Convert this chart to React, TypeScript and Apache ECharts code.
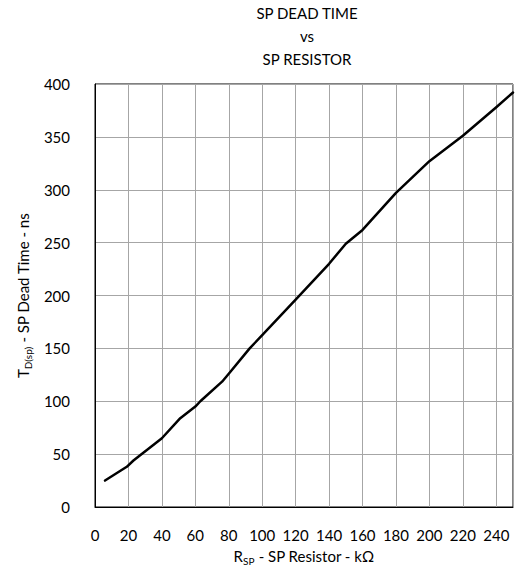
import React, { useEffect, useRef } from "react";
import * as echarts from "echarts";

const resistorK = [6, 19, 23, 27, 36, 40, 51, 60, 63, 76, 80, 92.5, 100, 120, 140, 150, 160, 180, 200, 220, 240, 250];
const deadTimeNs = [25, 38, 44, 49, 60, 65, 84, 95, 100, 118.5, 126, 150, 162.5, 196, 230, 249, 262, 297, 327, 351, 378, 392];
const titleLines = ["SP DEAD TIME", "vs", "SP RESISTOR"];

const FONT = "Lato, 'Open Sans', sans-serif";

const nameRich = {
  a: { fontSize: 15, fontFamily: FONT, color: "#000", lineHeight: 20, verticalAlign: "middle" },
  b: { fontSize: 10, fontFamily: FONT, color: "#000", lineHeight: 20, verticalAlign: "bottom", padding: [0, 0, 0, 0] },
};

export default function App() {
  const ref = useRef<HTMLDivElement>(null);
  useEffect(() => {
    if (!ref.current) return;
    const chart = echarts.init(ref.current, null, { renderer: "svg" });
    const data = resistorK.map((x, i) => [x, deadTimeNs[i]]);
    chart.setOption({
      animation: false,
      textStyle: { fontFamily: FONT },
      graphic: titleLines.map((t, i) => ({
        type: "text",
        x: 307,
        y: 13 + i * 23,
        style: {
          text: t,
          fill: "#000",
          font: `15px ${FONT}`,
          textAlign: "center",
          textVerticalAlign: "middle",
        },
      })),
      grid: {
        left: 95,
        top: 84,
        right: -3,
        bottom: 68,
        show: true,
        borderColor: "#000",
        borderWidth: 1,
        backgroundColor: "transparent",
      },
      xAxis: {
        type: "value",
        min: 0,
        max: 250,
        interval: 20,
        name: "{a|R}{b|SP}{a| - SP Resistor - kΩ}",
        nameLocation: "middle",
        nameGap: 39,
        nameTextStyle: { rich: nameRich },
        axisLine: { show: true, lineStyle: { color: "#000", width: 1 } },
        axisTick: { show: false },
        axisLabel: {
          margin: 20,
          fontSize: 15,
          color: "#000",
          fontFamily: FONT,
          formatter: (v: number) => (v % 20 === 0 ? String(v) : ""),
        },
        splitLine: { show: true, lineStyle: { color: "#a6a6a6", width: 1 } },
      },
      yAxis: {
        type: "value",
        min: 0,
        max: 400,
        interval: 50,
        name: "{a|T}{b|D(sp)}{a| - SP Dead Time - ns}",
        nameLocation: "middle",
        nameGap: 58,
        nameTextStyle: { rich: nameRich },
        axisLine: { show: true, lineStyle: { color: "#000", width: 1 } },
        axisTick: { show: false },
        axisLabel: { margin: 25, fontSize: 15, color: "#000", fontFamily: FONT },
        splitLine: { show: true, lineStyle: { color: "#a6a6a6", width: 1 } },
      },
      series: [
        {
          type: "line",
          data,
          smooth: false,
          showSymbol: false,
          lineStyle: { color: "#000", width: 2.5, join: "round", cap: "round" },
        },
      ],
    });
    return () => chart.dispose();
  }, []);
  return (
    <div
      ref={ref}
      style={{ position: "fixed", left: 0, top: 0, width: 516, height: 575, background: "#fff" }}
    />
  );
}
